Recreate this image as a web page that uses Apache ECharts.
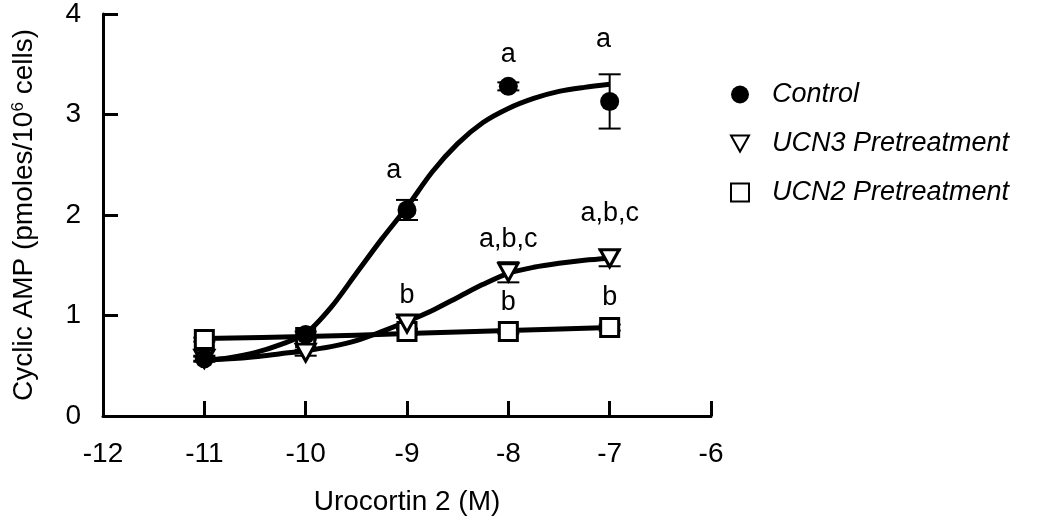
<!DOCTYPE html>
<html>
<head>
<meta charset="utf-8">
<script src="https://cdn.jsdelivr.net/npm/echarts@6/dist/echarts.min.js"></script>
<style>
  html, body { margin: 0; padding: 0; background: #fff; }
  #chart { width: 1050px; height: 525px; }
</style>
</head>
<body>
<div id="chart"></div>
<script>
// measured points (log M) and means / errors
const doseX = [-11, -10, -9, -8, -7];
const controlY = [0.57, 0.81, 2.05, 3.28, 3.13];
const controlErr = [0.03, 0.03, 0.10, 0.04, 0.27];
const ucn3Y = [0.57, 0.63, 0.92, 1.43, 1.57];
const ucn3Err = [0.02, 0.03, 0.06, 0.10, 0.08];
const ucn2Y = [0.76, 0.78, 0.84, 0.84, 0.88];
const ucn2Err = [0.02, 0.02, 0.03, 0.02, 0.03];

// fitted curves at quarter-log steps
const fitX = [-11, -10.75, -10.5, -10.25, -10, -9.75, -9.5, -9.25, -9,
              -8.75, -8.5, -8.25, -8, -7.75, -7.5, -7.25, -7];
const controlFit = [0.55, 0.58, 0.63, 0.71, 0.82, 1.08, 1.42, 1.76, 2.08,
                    2.43, 2.71, 2.92, 3.06, 3.16, 3.23, 3.27, 3.30];
const ucn3Fit = [0.56, 0.57, 0.59, 0.62, 0.65, 0.69, 0.75, 0.84, 0.94,
                 1.05, 1.18, 1.31, 1.42, 1.48, 1.52, 1.55, 1.57];
const ucn2Fit = [0.77, 0.79, 0.82, 0.85, 0.88]; // at doseX

// significance letters
const noteX = [-9.13, -8, -7.06, -8, -7, -9, -8, -7];
const noteY = [2.44, 3.60, 3.75, 1.76, 2.01, 1.20, 1.13, 1.18];
const noteText = ['a', 'a', 'a', 'a,b,c', 'a,b,c', 'b', 'b', 'b'];

const font = "'Liberation Sans', Arial, Helvetica, sans-serif";
const triDown = 'path://M0,0 L10,0 L5,9 Z';

const zip = (xs, ys) => xs.map((x, i) => [x, ys[i]]);
const errData = (ys, es) => doseX.map((x, i) => [x, ys[i] - es[i], ys[i] + es[i]]);

function renderErr(params, api) {
  const x = api.value(0);
  const lo = api.coord([x, api.value(1)]);
  const hi = api.coord([x, api.value(2)]);
  const w = 11;
  const style = { stroke: '#000', lineWidth: 2 };
  return {
    type: 'group',
    children: [
      { type: 'line', shape: { x1: lo[0], y1: lo[1], x2: hi[0], y2: hi[1] }, style },
      { type: 'line', shape: { x1: lo[0] - w, y1: lo[1], x2: lo[0] + w, y2: lo[1] }, style },
      { type: 'line', shape: { x1: hi[0] - w, y1: hi[1], x2: hi[0] + w, y2: hi[1] }, style }
    ]
  };
}

function renderNote(params, api) {
  const p = api.coord([api.value(0), api.value(1)]);
  return {
    type: 'text',
    x: p[0],
    y: p[1],
    style: {
      text: noteText[params.dataIndex],
      font: '27px ' + font,
      fill: '#000',
      align: 'center',
      verticalAlign: 'middle'
    }
  };
}

const fitLine = (name, data) => ({
  name: name,
  type: 'line',
  data: data,
  smooth: 0.3,
  symbol: 'none',
  lineStyle: { color: '#000', width: 5 },
  z: 2,
  silent: true
});

const errSeries = (data) => ({
  type: 'custom',
  renderItem: renderErr,
  data: data,
  z: 3,
  silent: true
});

const chart = echarts.init(document.getElementById('chart'));

chart.setOption({
  animation: false,
  backgroundColor: '#fff',
  grid: { left: 103, right: 339, top: 12, bottom: 109 },
  xAxis: {
    type: 'value',
    min: -12,
    max: -6,
    interval: 1,
    name: 'Urocortin 2 (M)',
    nameLocation: 'middle',
    nameGap: 72,
    nameTextStyle: { fontSize: 28, fontFamily: font, color: '#000' },
    axisLine: { lineStyle: { color: '#000', width: 3 } },
    axisTick: { inside: true, length: 15, lineStyle: { color: '#000', width: 3 } },
    axisLabel: { fontSize: 28, fontFamily: font, color: '#000', margin: 24 },
    splitLine: { show: false }
  },
  yAxis: {
    type: 'value',
    min: 0,
    max: 4,
    interval: 1,
    name: '{a|Cyclic AMP (pmoles/10}{s|6}{a| cells)}',
    nameLocation: 'middle',
    nameGap: 65,
    nameTextStyle: {
      rich: {
        a: { fontSize: 28, fontFamily: font, color: '#000' },
        s: { fontSize: 17, fontFamily: font, color: '#000', verticalAlign: 'top', padding: [0, 0, 10, 0] }
      }
    },
    axisLine: { lineStyle: { color: '#000', width: 3 } },
    axisTick: { inside: true, length: 15, lineStyle: { color: '#000', width: 3 } },
    axisLabel: { fontSize: 28, fontFamily: font, color: '#000', margin: 22 },
    splitLine: { show: false }
  },
  legend: {
    orient: 'vertical',
    left: 725,
    top: 75,
    itemWidth: 18,
    itemHeight: 18,
    itemGap: 20,
    data: ['Control', 'UCN3 Pretreatment', 'UCN2 Pretreatment'],
    textStyle: {
      fontSize: 27,
      fontStyle: 'italic',
      fontFamily: font,
      color: '#000',
      lineHeight: 29,
      padding: [0, 0, 0, 18]
    }
  },
  series: [
    fitLine('fitControl', zip(fitX, controlFit)),
    fitLine('fitUcn3', zip(fitX, ucn3Fit)),
    fitLine('fitUcn2', zip(doseX, ucn2Fit)),
    errSeries(errData(controlY, controlErr)),
    errSeries(errData(ucn3Y, ucn3Err)),
    errSeries(errData(ucn2Y, ucn2Err)),
    {
      name: 'UCN2 Pretreatment',
      type: 'scatter',
      data: zip(doseX, ucn2Y),
      symbol: 'rect',
      symbolSize: 18,
      itemStyle: { color: '#fff', borderColor: '#000', borderWidth: 3, opacity: 1 },
      z: 4
    },
    {
      name: 'UCN3 Pretreatment',
      type: 'scatter',
      data: zip(doseX, ucn3Y),
      symbol: triDown,
      symbolSize: [19, 17],
      itemStyle: { color: '#fff', borderColor: '#000', borderWidth: 3, opacity: 1 },
      z: 5
    },
    {
      name: 'Control',
      type: 'scatter',
      data: zip(doseX, controlY),
      symbol: 'circle',
      symbolSize: 19,
      itemStyle: { color: '#000', opacity: 1 },
      z: 6
    },
    {
      type: 'custom',
      renderItem: renderNote,
      data: zip(noteX, noteY),
      silent: true,
      z: 7
    }
  ]
});
</script>
</body>
</html>
